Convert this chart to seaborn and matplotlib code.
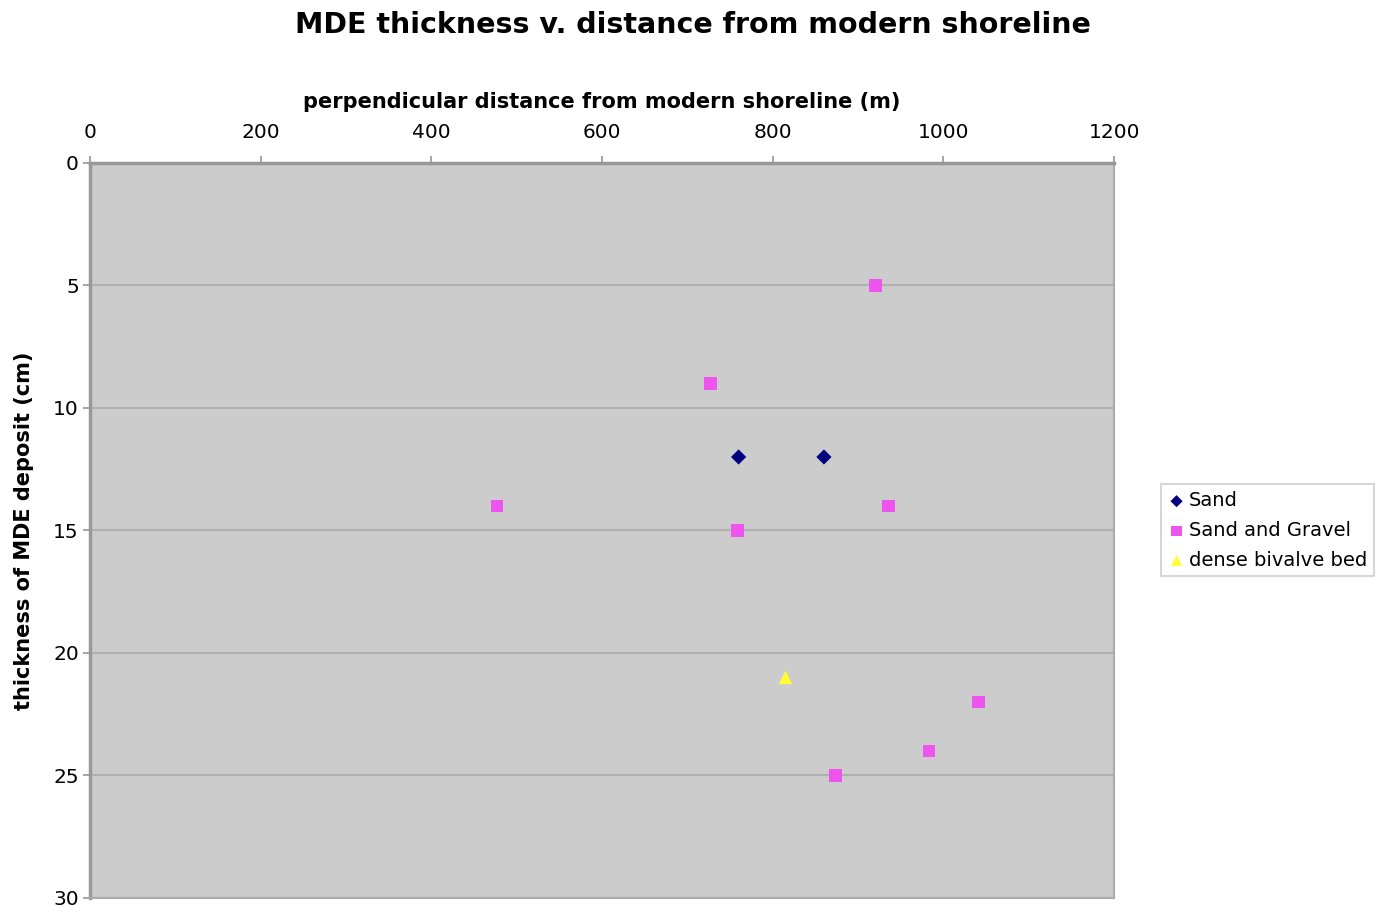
import matplotlib
matplotlib.use("Agg")
import matplotlib.pyplot as plt
import seaborn as sns
import pandas as pd

sand_x = [760, 860]
sand_y = [12, 12]
gravel_x = [920, 727, 477, 936, 759, 1041, 983, 874]
gravel_y = [5, 9, 14, 14, 15, 22, 24, 25]
bivalve_x = [815]
bivalve_y = [21]

series = ["Sand", "Sand and Gravel", "dense bivalve bed"]
colors = {"Sand": "#000080", "Sand and Gravel": "#ee55ee", "dense bivalve bed": "#ffff33"}
markers = {"Sand": "D", "Sand and Gravel": "s", "dense bivalve bed": "^"}
sizes = {"Sand": 60, "Sand and Gravel": 85, "dense bivalve bed": 95}

x_ticks = [0, 200, 400, 600, 800, 1000, 1200]
y_ticks = [0, 5, 10, 15, 20, 25, 30]

df = pd.concat([
    pd.DataFrame({"x": sand_x, "y": sand_y, "series": series[0]}),
    pd.DataFrame({"x": gravel_x, "y": gravel_y, "series": series[1]}),
    pd.DataFrame({"x": bivalve_x, "y": bivalve_y, "series": series[2]}),
])

sns.set_theme(style="white")
plt.rcParams["font.family"] = ["DejaVu Sans"]
plt.rcParams["text.color"] = "black"
plt.rcParams["axes.labelcolor"] = "black"

fig = plt.figure(figsize=(13.85, 9.15), dpi=100)
ax = fig.add_axes([0.065, 0.0186, 0.7394, 0.8033])
ax.set_facecolor("#cccccc")

for s in series:
    sub = df[df["series"] == s]
    sns.scatterplot(data=sub, x="x", y="y", ax=ax, color=colors[s], marker=markers[s],
                    s=sizes[s], edgecolor="none", label=s, zorder=3)

ax.set_xlim(0, 1200)
ax.set_ylim(30, 0)
ax.set_xticks(x_ticks)
ax.set_yticks(y_ticks)
ax.xaxis.tick_top()
ax.xaxis.set_label_position("top")
ax.tick_params(axis="both", labelsize=14.5, length=5, color="#999999", labelcolor="black",
               direction="out")
ax.tick_params(axis="x", top=True, bottom=False, pad=10)
ax.tick_params(axis="y", left=True, pad=3)
ax.yaxis.grid(True, color="#b0b0b0", linewidth=1.5)
ax.xaxis.grid(False)
ax.set_axisbelow(True)
for side in ["left", "top"]:
    ax.spines[side].set_color("#999999")
    ax.spines[side].set_linewidth(2.5)
for side in ["right", "bottom"]:
    ax.spines[side].set_color("#aaaaaa")
    ax.spines[side].set_linewidth(1.5)

ax.set_xlabel("perpendicular distance from modern shoreline (m)", fontsize=15,
              fontweight="bold", labelpad=11)
ax.set_ylabel("thickness of MDE deposit (cm)", fontsize=15, fontweight="bold", labelpad=14)
fig.suptitle("MDE thickness v. distance from modern shoreline", fontsize=20.5,
             fontweight="bold", y=0.988)

leg = ax.legend(loc="center left", bbox_to_anchor=(1.042, 0.5), fontsize=14, frameon=True,
                fancybox=False, edgecolor="#cccccc", handletextpad=0.2, borderpad=0.35,
                labelspacing=0.55, handlelength=0.9, handleheight=0.7, borderaxespad=0.2,
                markerscale=0.8)
leg.get_frame().set_linewidth(1.5)
for t in leg.get_texts():
    t.set_color("black")

fig.savefig("out.png", dpi=100)
